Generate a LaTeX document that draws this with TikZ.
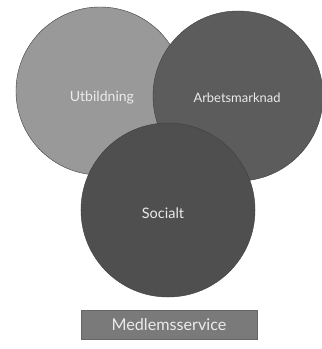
\documentclass[tikz,border=0pt]{standalone}
\usepackage{fontspec}
\setmainfont{Lato}
\usepackage{tikz}
\usetikzlibrary{positioning}

\begin{document}
\begin{tikzpicture}[
  x=0.025cm, y=-0.025cm,
  area/.style={
    circle, draw=black!75, line width=0.3pt, inner sep=0pt
  },
  areatext/.style={
    text=white!92!black, inner sep=0pt
  },
  service/.style={
    rectangle, draw=black!60, fill=black!52, line width=0.3pt,
    minimum width=4.4cm, minimum height=0.73cm,
    text=white!92!black, font=\fontsize{11.5}{14}\selectfont
  }
]
\useasboundingbox (0,0) rectangle (322,349);

% the three areas, Socialt on top
\node[area, fill=black!40, minimum size=4.2cm] (utb) at (100,91) {};
\node[area, fill=black!64, minimum size=4.25cm] (arb) at (238,96) {};
\node[area, fill=black!69, minimum size=4.35cm] (soc) at (168,210) {};

\node[areatext, font=\fontsize{10}{12}\selectfont] (utb-t) at (102,98) {Utbildning};
\node[areatext, font=\fontsize{9.2}{11}\selectfont] (arb-t) at (237,98) {Arbetsmarknad};
\node[areatext, font=\fontsize{10.3}{12}\selectfont] (soc-t) at (163,213) {Socialt};

\node[service] (med) at (169,325) {Medlemsservice};

\end{tikzpicture}
\end{document}
